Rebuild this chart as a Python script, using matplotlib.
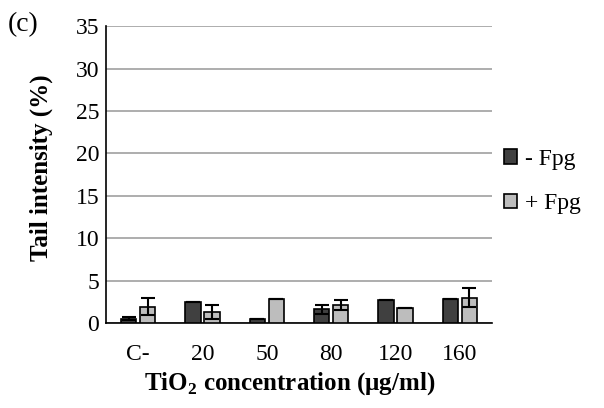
import matplotlib
matplotlib.use("Agg")
import matplotlib.pyplot as plt
import numpy as np

categories = ["C-", "20", "50", "80", "120", "160"]
minus_fpg = [0.5, 2.5, 0.5, 1.6, 2.7, 2.8]
minus_err = [0.2, 0.0, 0.0, 0.5, 0.0, 0.0]
plus_fpg = [1.9, 1.3, 2.8, 2.1, 1.8, 3.0]
plus_err = [1.0, 0.8, 0.0, 0.6, 0.0, 1.1]
yticks = [0, 5, 10, 15, 20, 25, 30, 35]

plt.rcParams['font.family'] = ['Liberation Serif', 'DejaVu Serif']
plt.rcParams['mathtext.fontset'] = 'custom'
plt.rcParams['mathtext.rm'] = 'Liberation Serif'
plt.rcParams['mathtext.bf'] = 'Liberation Serif:bold'

fig = plt.figure(figsize=(6.04, 4.08), dpi=100)
ax = fig.add_axes([0.1755, 0.2083, 0.6391, 0.7277])

x = np.arange(len(categories))
w = 0.235
off = 0.148
dark = "#404040"
light = "#bdbdbd"
ax.bar(x - off, minus_fpg, w, color=dark, edgecolor="black", linewidth=1.2, zorder=3, label="- Fpg")
ax.bar(x + off, plus_fpg, w, color=light, edgecolor="black", linewidth=1.2, zorder=3, label="+ Fpg")
ekw = dict(fmt="none", ecolor="black", elinewidth=1.5, capsize=5, capthick=1.5, zorder=4)
ax.errorbar(x - off, minus_fpg, yerr=minus_err, **ekw)
ax.errorbar(x + off, plus_fpg, yerr=plus_err, **ekw)

ax.set_xlim(-0.5, len(categories) - 0.5)
ax.set_ylim(0, 35)
ax.set_yticks(yticks)
ax.set_xticks(x)
ax.set_xticklabels(categories)
ax.tick_params(axis="both", length=0, labelsize=17)
ax.tick_params(axis="x", pad=15)
ax.tick_params(axis="y", pad=5)
ax.yaxis.grid(True, color="#a0a0a0", linewidth=1.2, zorder=0)
ax.set_axisbelow(True)
for s in ["top", "right"]:
    ax.spines[s].set_visible(False)
for s in ["left", "bottom"]:
    ax.spines[s].set_linewidth(1.2)
    ax.spines[s].set_color("black")

ax.set_ylabel("Tail intensity (%)", fontsize=18, fontweight="bold")
ax.yaxis.set_label_coords(-0.137, 0.524)
ax.set_xlabel("TiO$_\\mathbf{2}$ concentration (μg/ml)", fontsize=18, fontweight="bold")
ax.xaxis.set_label_coords(0.477, -0.158)
fig.text(0.013, 0.94, "(c)", fontsize=20, va="center", ha="left")

leg = fig.legend(loc="center left", bbox_to_anchor=(0.8, 0.555), frameon=False,
                 fontsize=17, handlelength=0.55, handleheight=0.55, handletextpad=0.3,
                 labelspacing=1.0)

fig.savefig("out.png", dpi=100)
